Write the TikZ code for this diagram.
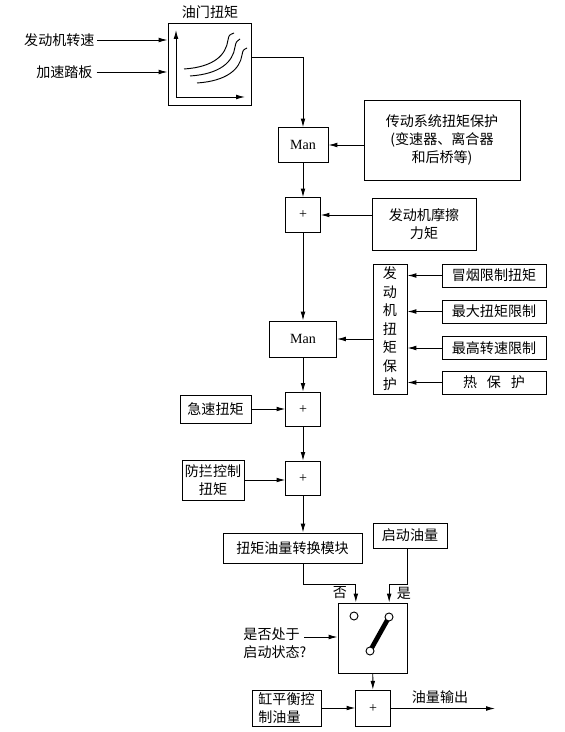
\documentclass[tikz,border=0pt]{standalone}
\usepackage{fontspec}
\setmainfont{Liberation Serif}
\newfontfamily\cjk{Noto Sans CJK SC}
\usetikzlibrary{arrows.meta,calc}

\begin{document}
\begin{tikzpicture}[x=0.03cm, y=-0.03cm, line width=0.8pt,
        arr/.style={-{Latex[length=7.5pt,width=4pt]}},
        box/.style={draw, inner sep=0pt, align=center, font=\cjk\fontsize{12}{15.5}\selectfont},
        lbl/.style={inner sep=0pt, align=center, font=\cjk\fontsize{12}{15.5}\selectfont},
        sumbox/.style={draw, inner sep=0pt, minimum width=1.03cm, minimum height=1.03cm, font=\fontsize{12}{14}\selectfont}]
    \useasboundingbox (0,0) rectangle (565,732);

    \node[box, minimum width=2.49cm, minimum height=2.46cm] (map) at (209.5,64) {};
    \node[lbl] (maptitle) at (210,12) {油门扭矩};
    \draw[arr] (176,97) -- (176,30);
    \draw[arr] (176,97) -- (245,97);
    \draw (184,69) .. controls (214,67) and (226,55) .. (228,40) .. controls (229,35) .. (234,33);
    \draw (190,76) .. controls (220,74) and (233,62) .. (235,47) .. controls (236,42) .. (240,39);
    \draw (197,83) .. controls (227,81) and (240,69) .. (242,55) .. controls (243,50) .. (247,48);

    \node[lbl, anchor=east] (speed) at (95,40) {发动机转速};
    \node[lbl, anchor=east] (pedal) at (93,72) {加速踏板};
    \draw[arr] ([xshift=2pt]speed.east) -- (speed -| map.west);
    \draw[arr] ([xshift=3pt]pedal.east) -- (pedal -| map.west);

    \node[sumbox, minimum width=1.5cm] (man1) at (303,145) {Man};
    \node[box, minimum width=4.68cm, minimum height=2.4cm] (trans) at (442,140) {传动系统扭矩保护\\(变速器、离合器\\和后桥等)};
    \draw[arr] ([yshift=0.21cm]map.east) -| (man1.north);
    \draw[arr] (trans.west |- man1) -- (man1.east);

    \node[sumbox] (sum1) at (303,215) {+};
    \node[box, minimum width=3.12cm, minimum height=1.56cm] (fric) at (424,224) {发动机摩擦\\力矩};
    \draw[arr] (man1) -- (sum1);
    \draw[arr] (fric.west |- sum1) -- (sum1.east);

    \node[box, minimum width=1.02cm, minimum height=3.9cm, font=\cjk\fontsize{12}{15.8}\selectfont] (prot) at (390,329) {发\\动\\机\\扭\\矩\\保\\护};
    \node[box, minimum width=3.12cm, minimum height=0.69cm] (smoke) at (494,275.5) {冒烟限制扭矩};
    \node[box, minimum width=3.12cm, minimum height=0.69cm] (maxtq) at (494,311.5) {最大扭矩限制};
    \node[box, minimum width=3.12cm, minimum height=0.69cm] (maxn) at (494,348) {最高转速限制};
    \node[box, minimum width=3.12cm, minimum height=0.69cm] (heat) at (494,382.5) {热\hspace{0.7em}保\hspace{0.7em}护};
    \foreach \n in {smoke,maxtq,maxn,heat}
        \draw[arr] (\n.west) -- (\n.west -| prot.east);

    \node[sumbox, minimum width=2.01cm, minimum height=1.08cm] (man2) at (303,339) {Man};
    \draw[arr] (sum1) -- (man2);
    \draw[arr] (prot.west |- man2) -- (man2.east);

    \node[sumbox] (sum2) at (303,409.5) {+};
    \node[box, minimum width=2.13cm, minimum height=0.84cm] (idle) at (215.5,409) {急速扭矩};
    \draw[arr] (man2) -- (sum2);
    \draw[arr] (idle.east) -- (idle.east -| sum2.west);

    \node[sumbox] (sum3) at (303,478.5) {+};
    \node[box, minimum width=1.86cm, minimum height=1.2cm] (anti) at (213,480) {防拦控制\\扭矩};
    \draw[arr] (sum2) -- (sum3);
    \draw[arr] (anti.east) -- (anti.east -| sum3.west);

    \node[box, minimum width=4.17cm, minimum height=0.9cm] (conv) at (292.5,548) {扭矩油量转换模块};
    \node[box, minimum width=2.22cm, minimum height=0.75cm] (start) at (410,535.5) {启动油量};
    \node[draw, minimum width=2.07cm, minimum height=2.1cm] (sw) at (372.5,638) {};
    \draw[arr] (sum3) -- (sum3 |- conv.north);
    \draw[arr] (sum3 |- conv.south) -- ++(0,21) -| ([xshift=-0.5cm]sw.north);
    \draw[arr] ([xshift=-0.09cm]start.south) -- ++(0,36) -| ([xshift=0.5cm]sw.north);
    \node[lbl] (no) at (340,593) {否};
    \node[lbl] (yes) at (404,593) {是};

    \draw (354,616) circle (0.12cm);
    \draw[line width=4pt] (389,617) -- (370,651);
    \draw[fill=white] (389,617) circle (0.12cm);
    \draw[fill=white] (370,651) circle (0.12cm);

    \node[lbl, align=left, anchor=west] (ask) at (243,643) {是否处于\\启动状态?};
    \coordinate (askout) at (304,637);
    \draw[arr] (askout) -- (askout -| sw.west);

    \node[sumbox, minimum height=1.1cm] (sum4) at (373,708.5) {+};
    \node[box, align=left, minimum width=2.07cm, minimum height=1.08cm] (cyl) at (286.5,708) {缸平衡控\\制油量};
    \coordinate (out) at (495,708.5);
    \draw[arr] (sw) -- (sum4);
    \draw[arr] (cyl.east) -- (cyl.east -| sum4.west);
    \draw[arr] (sum4.east) -- (out);
    \node[lbl] (outlbl) at (440,697) {油量输出};
\end{tikzpicture}
\end{document}
